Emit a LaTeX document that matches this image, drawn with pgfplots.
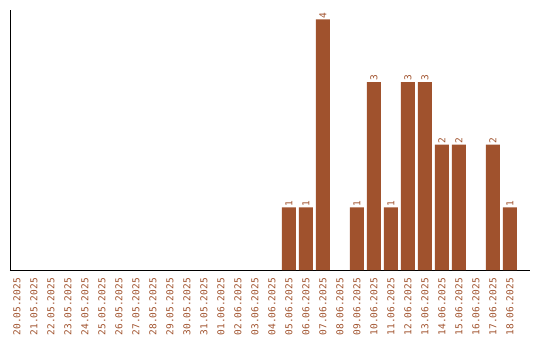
\documentclass[border=0pt]{standalone}
\usepackage{pgfplots}
\pgfplotsset{compat=1.18}
\usepackage{fontspec}
\newfontfamily\monofont{DejaVu Sans Mono}
\definecolor{sienna}{HTML}{A0522D}
\begin{document}
\begin{tikzpicture}
\path (0,0) rectangle (540pt,340pt);
\begin{axis}[
  at={(10pt,330pt)}, anchor=north west,
  scale only axis, width=520pt, height=260pt,
  xmin=-0.41, xmax=30.18, ymin=0, ymax=4.15,
  axis lines*=left,
  axis line style={black, line width=0.9pt},
  ytick=\empty,
  xtick={0,...,29},
  xticklabels={20.05.2025,21.05.2025,22.05.2025,23.05.2025,24.05.2025,25.05.2025,26.05.2025,27.05.2025,28.05.2025,29.05.2025,30.05.2025,31.05.2025,01.06.2025,02.06.2025,03.06.2025,04.06.2025,05.06.2025,06.06.2025,07.06.2025,08.06.2025,09.06.2025,10.06.2025,11.06.2025,12.06.2025,13.06.2025,14.06.2025,15.06.2025,16.06.2025,17.06.2025,18.06.2025},
  major tick length=0pt,
  xticklabel style={rotate=90, anchor=east, font=\monofont\fontsize{9.5}{10}\selectfont, text=sienna, inner sep=0pt},
  tick label style={yshift=-8pt},
  /pgf/number format/assume math mode=true,
  clip=false,
]
\addplot[ybar, bar width=14pt, fill=sienna, draw=none,
  nodes near coords,
  nodes near coords style={rotate=90, anchor=west, font=\monofont\fontsize{9.5}{10}\selectfont, text=sienna, inner sep=1pt}]
coordinates {(16,1) (17,1) (18,4) (20,1) (21,3) (22,1) (23,3) (24,3) (25,2) (26,2) (28,2) (29,1)};
\end{axis}
\end{tikzpicture}
\end{document}
